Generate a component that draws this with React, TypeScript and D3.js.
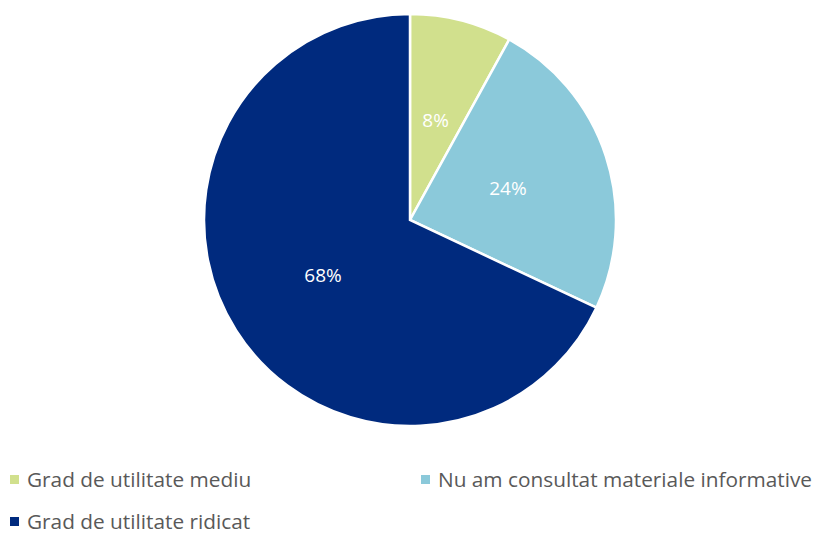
import React from 'react';
import * as d3 from 'd3';

const categories = ['Grad de utilitate mediu', 'Nu am consultat materiale informative', 'Grad de utilitate ridicat'];
const values = [8, 24, 68];
const colors = ['#D1E08D', '#8BC9DA', '#002A7E'];

const width = 815;
const height = 534;
const cx = 410;
const cy = 220;
const radius = 206;
const font = '"Open Sans", sans-serif';

const App: React.FC = () => {
  const pie = d3.pie<number>().sort(null).value(d => d);
  const arcs = pie(values);
  const arc = d3.arc<d3.PieArcDatum<number>>().innerRadius(0).outerRadius(radius);
  const labelArc = d3.arc<d3.PieArcDatum<number>>().innerRadius(radius / 2).outerRadius(radius / 2);

  const legendPos = [
    { x: 10, y: 480 },
    { x: 421, y: 480 },
    { x: 10, y: 522 },
  ];

  return (
    <svg width={width} height={height} style={{ position: 'absolute', left: 0, top: 0 }}>
      <rect width={width} height={height} fill="#fff" />
      <g transform={`translate(${cx},${cy})`}>
        {arcs.map((a, i) => (
          <path key={i} d={arc(a) ?? ''} fill={colors[i]} stroke="#fff" strokeWidth={2.5} />
        ))}
        {arcs.map((a, i) => {
          const [x, y] = labelArc.centroid(a);
          return (
            <text key={i} x={x} y={y} dy="0.35em" textAnchor="middle" fill="#fff"
              fontFamily={font} fontSize={19}>
              {`${values[i]}%`}
            </text>
          );
        })}
      </g>
      {categories.map((c, i) => (
        <g key={c} transform={`translate(${legendPos[i].x},${legendPos[i].y})`}>
          <rect x={0} y={-5} width={9} height={9} fill={colors[i]} />
          <text x={17} y={0} dy="0.35em" fill="#595959" fontFamily={font} fontSize={20.8}>{c}</text>
        </g>
      ))}
    </svg>
  );
};

export default App;
